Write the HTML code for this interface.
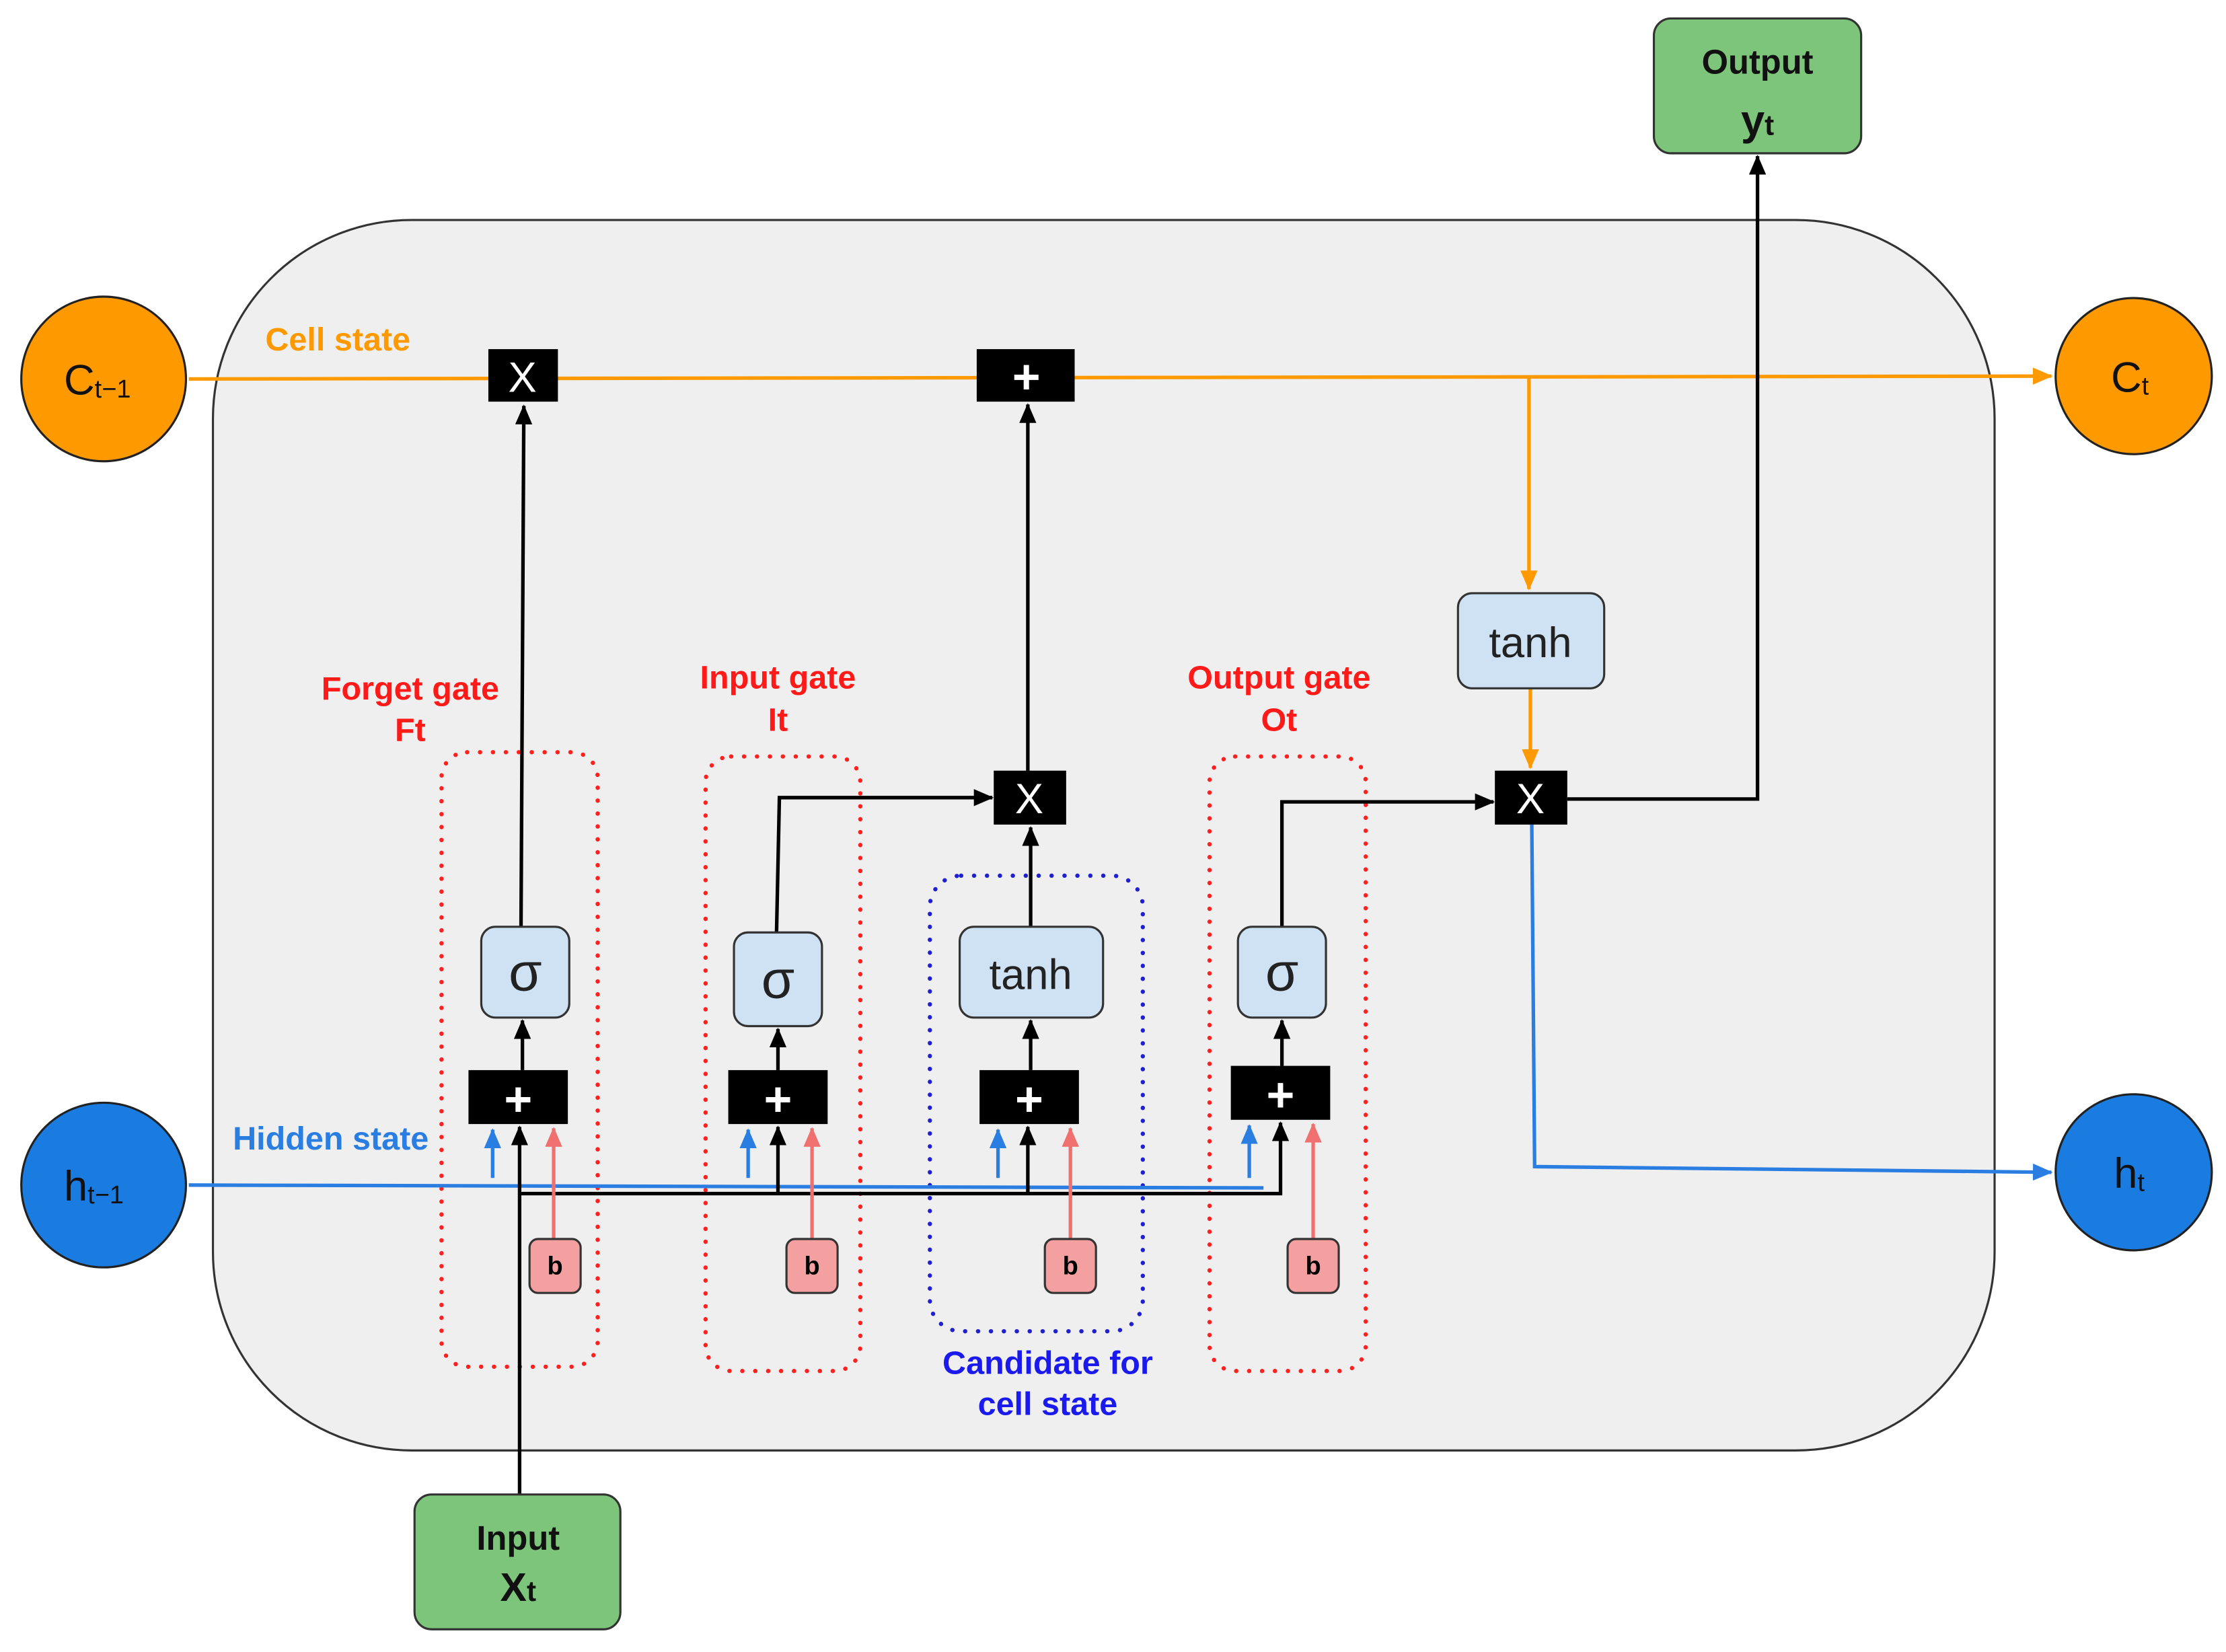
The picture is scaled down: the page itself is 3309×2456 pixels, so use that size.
<!DOCTYPE html>
<html><head><meta charset="utf-8"><style>html,body{margin:0;padding:0;background:#fff}svg{display:block}</style></head>
<body>
<svg width="3309" height="2456" viewBox="0 0 1568 1164" preserveAspectRatio="none" xmlns="http://www.w3.org/2000/svg" font-family="Liberation Sans, sans-serif">
<defs>
<marker id="ak" markerWidth="14" markerHeight="14" refX="13" refY="6" orient="auto" markerUnits="userSpaceOnUse"><path d="M0,0 L14,6 L0,12 z" fill="#000"/></marker>
<marker id="ao" markerWidth="14" markerHeight="14" refX="13" refY="6" orient="auto" markerUnits="userSpaceOnUse"><path d="M0,0 L14,6 L0,12 z" fill="#ff9900"/></marker>
<marker id="ab" markerWidth="14" markerHeight="14" refX="13" refY="6" orient="auto" markerUnits="userSpaceOnUse"><path d="M0,0 L14,6 L0,12 z" fill="#2a7de1"/></marker>
<marker id="ap" markerWidth="14" markerHeight="14" refX="13" refY="6" orient="auto" markerUnits="userSpaceOnUse"><path d="M0,0 L14,6 L0,12 z" fill="#f07070"/></marker>
</defs>
<rect x="150" y="155" width="1255" height="867" rx="140" fill="#efefef" stroke="#333" stroke-width="1.5"/>
<g fill="none" stroke="#ff2020" stroke-width="3" stroke-dasharray="0.1 9" stroke-linecap="round">
<rect x="311" y="530" width="110" height="433" rx="18"/>
<rect x="497" y="533" width="109" height="433" rx="18"/>
<rect x="852" y="533" width="110" height="433" rx="18"/>
</g>
<rect x="655" y="617" width="150" height="321" rx="22" fill="none" stroke="#2020d0" stroke-width="3" stroke-dasharray="0.1 9" stroke-linecap="round"/>
<line x1="133" y1="267" x2="1445" y2="265" stroke="#ff9900" stroke-width="2.5" marker-end="url(#ao)"/>
<polyline points="1077,265 1077,415" fill="none" stroke="#ff9900" stroke-width="2.5" marker-end="url(#ao)"/>
<line x1="1078" y1="485" x2="1078" y2="541" stroke="#ff9900" stroke-width="2.5" marker-end="url(#ao)"/>
<line x1="133" y1="835" x2="890" y2="837" stroke="#2a7de1" stroke-width="2.5"/>
<polyline points="1079,581 1081,822 1445,826" fill="none" stroke="#2a7de1" stroke-width="2.5" marker-end="url(#ab)"/>
<g stroke="#000" stroke-width="2.5" fill="none">
<line x1="366" y1="1053" x2="366" y2="794" marker-end="url(#ak)"/>
<polyline points="366,841 902,841 902,791" marker-end="url(#ak)"/>
<line x1="548" y1="841" x2="548" y2="794" marker-end="url(#ak)"/>
<line x1="724" y1="841" x2="724" y2="794" marker-end="url(#ak)"/>
<line x1="368" y1="754" x2="368" y2="719" marker-end="url(#ak)"/>
<line x1="548" y1="754" x2="548" y2="725" marker-end="url(#ak)"/>
<line x1="726" y1="754" x2="726" y2="719" marker-end="url(#ak)"/>
<line x1="903" y1="751" x2="903" y2="719" marker-end="url(#ak)"/>
<line x1="367" y1="653" x2="369" y2="286" marker-end="url(#ak)"/>
<polyline points="547,657 549,562 699,562" marker-end="url(#ak)"/>
<line x1="726" y1="653" x2="726" y2="583" marker-end="url(#ak)"/>
<line x1="724" y1="543" x2="724" y2="285" marker-end="url(#ak)"/>
<polyline points="903,653 903,565 1052,565" marker-end="url(#ak)"/>
<polyline points="1104,563 1238,563 1238,110" marker-end="url(#ak)"/>
</g>
<g stroke="#2a7de1" stroke-width="2.5">
<line x1="347" y1="830" x2="347" y2="796" marker-end="url(#ab)"/>
<line x1="527" y1="830" x2="527" y2="796" marker-end="url(#ab)"/>
<line x1="703" y1="830" x2="703" y2="796" marker-end="url(#ab)"/>
<line x1="880" y1="830" x2="880" y2="793" marker-end="url(#ab)"/>
</g>
<g stroke="#f07070" stroke-width="2.5">
<line x1="390" y1="873" x2="390" y2="795" marker-end="url(#ap)"/>
<line x1="572" y1="873" x2="572" y2="795" marker-end="url(#ap)"/>
<line x1="754" y1="873" x2="754" y2="795" marker-end="url(#ap)"/>
<line x1="925" y1="873" x2="925" y2="792" marker-end="url(#ap)"/>
</g>
<g fill="#000">
<rect x="344" y="246" width="49" height="37"/>
<rect x="688" y="246" width="69" height="37"/>
<rect x="1053" y="543" width="51" height="38"/>
<rect x="700" y="543" width="51" height="38"/>
<rect x="330" y="754" width="70" height="38"/>
<rect x="513" y="754" width="70" height="38"/>
<rect x="690" y="754" width="70" height="38"/>
<rect x="867" y="751" width="70" height="38"/>
</g>
<g fill="#fff" font-size="30" text-anchor="middle">
<text x="368" y="276">X</text>
<text x="1078" y="573">X</text>
<text x="725" y="573">X</text>
<text x="723" y="277" font-size="34" font-weight="bold">+</text>
<text x="365" y="786" font-size="34" font-weight="bold">+</text>
<text x="548" y="786" font-size="34" font-weight="bold">+</text>
<text x="725" y="786" font-size="34" font-weight="bold">+</text>
<text x="902" y="783" font-size="34" font-weight="bold">+</text>
</g>
<g fill="#cfe2f3" stroke="#333" stroke-width="1.5">
<rect x="339" y="653" width="62" height="64" rx="10"/>
<rect x="517" y="657" width="62" height="66" rx="10"/>
<rect x="676" y="653" width="101" height="64" rx="10"/>
<rect x="872" y="653" width="62" height="64" rx="10"/>
<rect x="1027" y="418" width="103" height="67" rx="10"/>
</g>
<g fill="#222" text-anchor="middle">
<text x="370" y="698" font-size="38">σ</text>
<text x="548" y="703" font-size="38">σ</text>
<text x="903" y="698" font-size="38">σ</text>
<text x="726" y="697" font-size="30">tanh</text>
<text x="1078" y="463" font-size="30">tanh</text>
</g>
<g fill="#f4a0a0" stroke="#333" stroke-width="1.5">
<rect x="373" y="873" width="36" height="38" rx="6"/>
<rect x="554" y="873" width="36" height="38" rx="6"/>
<rect x="736" y="873" width="36" height="38" rx="6"/>
<rect x="907" y="873" width="36" height="38" rx="6"/>
</g>
<g font-size="18" font-weight="bold" text-anchor="middle" fill="#000">
<text x="391" y="898">b</text><text x="572" y="898">b</text><text x="754" y="898">b</text><text x="925" y="898">b</text>
</g>
<circle cx="73" cy="267" r="58" fill="#ff9900" stroke="#222" stroke-width="1.5"/>
<circle cx="1503" cy="265" r="55" fill="#ff9900" stroke="#222" stroke-width="1.5"/>
<circle cx="73" cy="835" r="58" fill="#1a7be0" stroke="#222" stroke-width="1.5"/>
<circle cx="1503" cy="826" r="55" fill="#1a7be0" stroke="#222" stroke-width="1.5"/>
<g fill="#111" font-size="30">
<text x="45" y="278">C<tspan font-size="18" dy="2">t−1</tspan></text>
<text x="1487" y="276">C<tspan font-size="18" dy="2">t</tspan></text>
<text x="45" y="846">h<tspan font-size="18" dy="2">t−1</tspan></text>
<text x="1489" y="837">h<tspan font-size="18" dy="2">t</tspan></text>
</g>
<rect x="1165" y="13" width="146" height="95" rx="12" fill="#7dc57a" stroke="#333" stroke-width="1.5"/>
<rect x="292" y="1053" width="145" height="95" rx="12" fill="#7dc57a" stroke="#333" stroke-width="1.5"/>
<g font-weight="bold" fill="#111" text-anchor="middle">
<text x="1238" y="52" font-size="24">Output</text>
<text x="1238" y="95" font-size="30">y<tspan font-size="20">t</tspan></text>
<text x="365" y="1092" font-size="24">Input</text>
<text x="365" y="1128" font-size="28">X<tspan font-size="20">t</tspan></text>
</g>
<g font-weight="bold" font-size="23" text-anchor="middle">
<text x="238" y="247" fill="#ff9900">Cell state</text>
<text x="233" y="810" fill="#2a7de1">Hidden state</text>
<text x="289" y="493" fill="#ff1a1a">Forget gate</text>
<text x="289" y="522" fill="#ff1a1a">Ft</text>
<text x="548" y="485" fill="#ff1a1a">Input gate</text>
<text x="548" y="515" fill="#ff1a1a">It</text>
<text x="901" y="485" fill="#ff1a1a">Output gate</text>
<text x="901" y="515" fill="#ff1a1a">Ot</text>
<text x="738" y="968" fill="#1a1aee">Candidate for</text>
<text x="738" y="997" fill="#1a1aee">cell state</text>
</g>
</svg>
</body></html>
